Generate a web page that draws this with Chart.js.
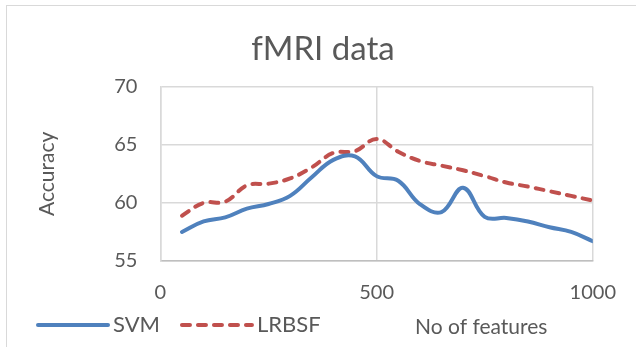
<!DOCTYPE html>
<html>
<head>
<meta charset="utf-8">
<script src="https://cdn.jsdelivr.net/npm/chart.js@4.4.0/dist/chart.umd.min.js"></script>
<style>
    body { margin: 0; background: #fff; }
    .frame { position: absolute; left: 6px; top: 5px; width: 700px; height: 400px; border: 1.5px solid #d9d9d9; }
    .wrap { position: absolute; left: 0; top: 0; width: 636px; height: 347px; }
</style>
</head>
<body>
<div class="frame"></div>
<div class="wrap"><canvas id="chart" width="636" height="347"></canvas></div>
<script>
    // Values
    const features = [50, 100, 150, 200, 250, 300, 350, 400, 450, 500, 550, 600, 650, 700, 750, 800, 850, 900, 950, 1000];
    const svm = [57.5, 58.4, 58.75, 59.5, 59.9, 60.6, 62.2, 63.7, 64.0, 62.3, 61.9, 59.9, 59.2, 61.3, 58.8, 58.7, 58.4, 57.9, 57.5, 56.7];
    const lrbsf = [58.9, 60.0, 60.1, 61.5, 61.65, 62.1, 63.05, 64.3, 64.45, 65.5, 64.4, 63.6, 63.2, 62.8, 62.3, 61.75, 61.4, 61.0, 60.6, 60.2];
    const xTicks = [0, 500, 1000];
    const yTicks = [55, 60, 65, 70];

    const textColor = '#595959';
    const fontFamily = "Lato, 'Noto Sans', sans-serif";

    function toPoints(values) {
        return values.map((v, i) => ({ x: features[i], y: v }));
    }

    // Excel-style legend row: line samples, names, then the x axis title on the same row
    const legendRow = {
        id: 'legendRow',
        afterDraw(chart) {
            const ctx = chart.ctx;
            const y = 325;
            let x = 38;
            ctx.save();
            ctx.font = '22px ' + fontFamily;
            ctx.textBaseline = 'middle';
            chart.data.datasets.forEach(ds => {
                ctx.beginPath();
                ctx.strokeStyle = ds.borderColor;
                ctx.lineWidth = ds.borderWidth;
                ctx.lineCap = ds.borderCapStyle || 'butt';
                ctx.setLineDash(ds.borderDash || []);
                ctx.moveTo(x, y);
                ctx.lineTo(x + 70, y);
                ctx.stroke();
                ctx.setLineDash([]);
                x += 75;
                ctx.fillStyle = textColor;
                ctx.fillText(ds.label, x, y);
                x += ctx.measureText(ds.label).width + 22;
            });
            ctx.font = '21px ' + fontFamily;
            ctx.fillText('No of features', 415, y + 2);
            ctx.restore();
        }
    };

    const ctx = document.getElementById('chart').getContext('2d');
    new Chart(ctx, {
        type: 'line',
        data: {
            datasets: [{
                label: 'SVM',
                data: toPoints(svm),
                borderColor: '#4f81bd',
                backgroundColor: '#4f81bd',
                borderWidth: 4,
                borderCapStyle: 'round',
                pointRadius: 0,
                tension: 0.4
            }, {
                label: 'LRBSF',
                data: toPoints(lrbsf),
                borderColor: '#c0504d',
                backgroundColor: '#c0504d',
                borderWidth: 4,
                borderDash: [8, 8],
                borderCapStyle: 'round',
                pointRadius: 0,
                tension: 0.4
            }]
        },
        options: {
            responsive: false,
            animation: false,
            layout: { padding: { left: 40, right: 30, top: 0, bottom: 22 } },
            plugins: {
                title: {
                    display: true,
                    text: 'fMRI data',
                    color: textColor,
                    font: { family: fontFamily, size: 33, weight: 'normal' },
                    padding: { top: 30, bottom: 17 }
                },
                legend: { display: false },
                tooltip: { enabled: false }
            },
            scales: {
                x: {
                    type: 'linear',
                    min: 0,
                    max: 1000,
                    afterBuildTicks(scale) { scale.ticks = xTicks.map(v => ({ value: v })); },
                    grid: { color: '#d9d9d9', lineWidth: 1.5, drawTicks: false },
                    border: { color: '#bfbfbf', width: 1.5 },
                    ticks: {
                        color: textColor,
                        font: { family: fontFamily, size: 20 },
                        padding: 20,
                        maxRotation: 0,
                        callback: v => String(v)
                    }
                },
                y: {
                    min: 55,
                    max: 70,
                    afterBuildTicks(scale) { scale.ticks = yTicks.map(v => ({ value: v })); },
                    grid: { color: '#d9d9d9', lineWidth: 1.5, drawTicks: false },
                    border: { color: '#d9d9d9', width: 1.5 },
                    ticks: { color: textColor, font: { family: fontFamily, size: 20 }, padding: 23 },
                    title: {
                        display: true,
                        text: 'Accuracy',
                        color: textColor,
                        font: { family: fontFamily, size: 21 },
                        padding: { top: -5, bottom: 31 }
                    }
                }
            }
        },
        plugins: [legendRow]
    });
</script>
</body>
</html>
